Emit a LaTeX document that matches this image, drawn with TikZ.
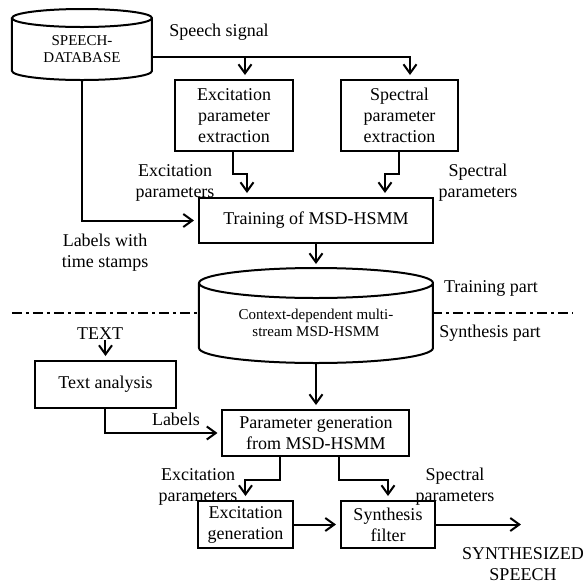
\documentclass[tikz,border=0pt]{standalone}
\usepackage{fontspec}
\setmainfont{Liberation Serif}
\usetikzlibrary{arrows.meta,positioning,backgrounds}

% cylinder drawn round a node: name, x radius, y radius
\newcommand{\drawdb}[3]{%
  \draw[line width=1pt, fill=white] (#1.north west) -- ([yshift=#3]#1.south west)
    arc[start angle=180, end angle=360, x radius=#2, y radius=#3]
    -- (#1.north east)
    arc[start angle=0, end angle=360, x radius=#2, y radius=#3];
}

\begin{document}
\begin{tikzpicture}[
    x=0.5pt, y=0.5pt,
    proc/.style={rectangle, draw, line width=1pt, align=center, inner sep=1pt,
        font=\fontsize{9}{10.5}\selectfont},
    dbase/.style={rectangle, align=center, inner sep=0pt, outer sep=0pt,
        font=\fontsize{7.5}{8.75}\selectfont},
    lbl/.style={align=center, inner sep=0pt, font=\fontsize{9}{10.5}\selectfont},
    arr/.style={-{Straight Barb[length=4.5pt,width=6.5pt]}, line width=1pt,
        shorten >=2pt},
    sep/.style={line width=1pt, dash pattern=on 5pt off 2pt on 1.5pt off 2pt}
]
    \useasboundingbox (0,0) rectangle (586,-585);

    % Training part
    \node[dbase, minimum width=70pt, minimum height=31pt] (db) at (82,-49)
        {SPEECH-\\DATABASE};
    \node[proc, minimum width=59pt, minimum height=35.5pt] (exc) at (234,-115.5)
        {Excitation\\parameter\\extraction};
    \node[proc, minimum width=58.5pt, minimum height=35.5pt, right=23pt of exc] (spec)
        {Spectral\\parameter\\extraction};
    \node[proc, minimum width=117pt, minimum height=22.5pt] (train) at (316,-220.5)
        {Training of MSD-HSMM};
    \node[dbase, minimum width=117pt, minimum height=40pt, below=19.5pt of train] (model)
        {Context-dependent multi-\\stream MSD-HSMM};

    % Synthesis part
    \node[proc, minimum width=93.5pt, minimum height=23pt, below=23pt of model] (pgen)
        {Parameter generation\\from MSD-HSMM};
    \node[proc, minimum width=70.5pt, minimum height=23.5pt] (tana) at (105.5,-384.5)
        {Text analysis};
    \node[proc, minimum width=47.5pt, minimum height=23.5pt] (egen) at (245.5,-524.5)
        {Excitation\\generation};
    \node[proc, minimum width=47pt, minimum height=23.5pt, right=23pt of egen] (sfil)
        {Synthesis\\filter};

    % Labels
    \node[lbl] (sig) at (219,-32) {Speech signal};
    \node[lbl] (excpar) at (175,-183) {Excitation\\parameters};
    \node[lbl] (specpar) at (478,-182.5) {Spectral\\parameters};
    \node[lbl] (stamps) at (105,-252.5) {Labels with\\time stamps};
    \node[lbl] (trpart) at (491,-288) {Training part};
    \node[lbl] (sypart) at (490,-333) {Synthesis part};
    \node[lbl] (txt) at (100,-334) {TEXT};
    \node[lbl] (lab) at (176,-419) {Labels};
    \node[lbl] (excpar2) at (198,-486.5) {Excitation\\parameters};
    \node[lbl] (specpar2) at (455,-486.5) {Spectral\\parameters};
    \node[lbl] (synsp) at (523,-564) {SYNTHESIZED\\SPEECH};

    % Separator and cylinders
    \begin{scope}[on background layer]
        \draw[sep] (12,-313) -- (573,-313);
        \drawdb{db}{35pt}{4.5pt}
        \drawdb{model}{58.5pt}{7.5pt}
    \end{scope}

    % Connectors
    \coordinate (sigline) at ([yshift=-4pt]db.east);
    \coordinate (excin) at ([xshift=5.5pt]exc.north);
    \draw[arr] (sigline) -| ([xshift=5.25pt]spec.north);
    \draw[arr] (excin |- sigline) -- (excin);
    \draw[arr] ([xshift=-0.5pt]exc.south) -- ++(0,-11pt) -| ([xshift=-34.5pt]train.north);
    \draw[arr] (spec.south) -- ++(0,-11pt) -| ([xshift=34.5pt]train.north);
    \draw[arr] (db.south) |- (train.west);
    \draw[arr] (train.south) -- ([yshift=7.5pt]model.north);
    \draw[arr] (model.south) -- (pgen.north);
    \draw[arr] (tana.north |- txt.south) -- (tana.north);
    \draw[arr] (tana.south) |- (pgen.west);
    \draw[arr] ([xshift=-17.75pt]pgen.south) -- ++(0,-11.5pt) -| (egen.north);
    \draw[arr] ([xshift=11.75pt]pgen.south) -- ++(0,-11.5pt) -| (sfil.north);
    \draw[arr] (egen) -- (sfil);
    \coordinate (speechout) at ([xshift=44.5pt]sfil.east);
    \draw[arr] (sfil) -- (speechout);
\end{tikzpicture}
\end{document}
